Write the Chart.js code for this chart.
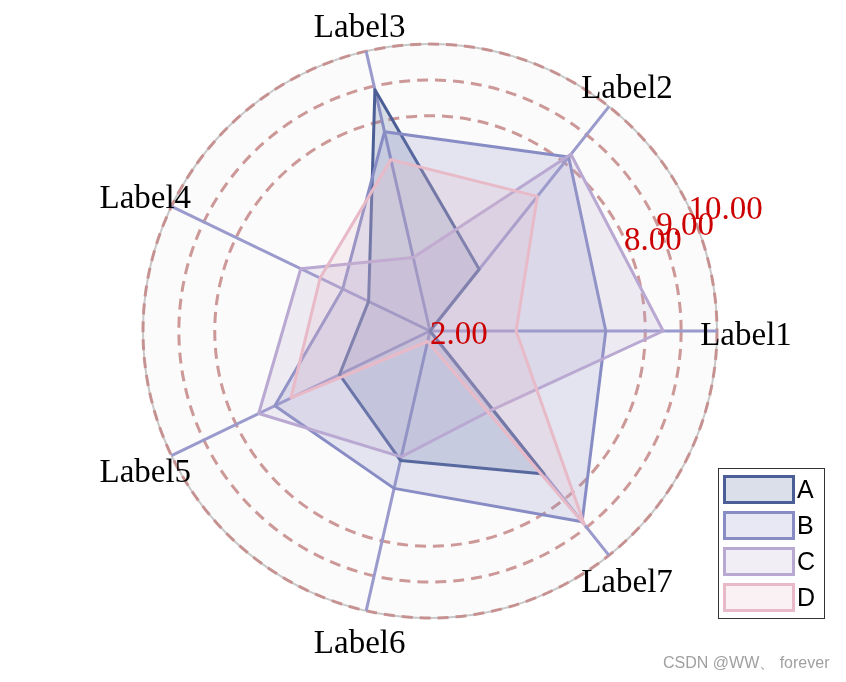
<!DOCTYPE html>
<html>
<head>
<meta charset="utf-8">
<script src="https://cdn.jsdelivr.net/npm/chart.js@4.4.1/dist/chart.umd.min.js"></script>
<style>
  html, body { margin: 0; padding: 0; background: #ffffff; }
  #wrap { width: 846px; height: 682px; position: relative; }
  canvas { display: block; }
</style>
</head>
<body>
<div id="wrap"><canvas id="c" width="846" height="682"></canvas></div>
<script>
// ---------------- data ----------------
const categories = ['Label1', 'Label2', 'Label3', 'Label4', 'Label5', 'Label6', 'Label7'];
const seriesNames = ['A', 'B', 'C', 'D'];
const seriesA = [2.0, 4.2, 8.9, 3.9, 4.8, 5.7, 7.1];
const seriesB = [6.9, 8.2, 7.7, 4.7, 6.8, 6.5, 8.8];
const seriesC = [8.5, 8.3, 4.1, 6.0, 7.3, 5.6, 4.8];
const seriesD = [4.4, 6.8, 6.9, 5.4, 6.3, 2.3, 8.9];
const tickValues = [2, 8, 9, 10];
const tickLabels = ['2.00', '8.00', '9.00', '10.00'];
const watermarkText = 'CSDN @WW、 forever';

// ---------------- styles ----------------
const seriesRGB = ['75,95,150', '136,140,196', '185,168,210', '232,186,200'];
const serifFont = '"Liberation Serif", "Times New Roman", serif';
const sansFont = '"Liberation Sans", Arial, sans-serif';

// Reference goes counter-clockwise from east; Chart.js goes clockwise,
// so feed the categories in reversed angular order.
const drawOrder = [0, 6, 5, 4, 3, 2, 1];
const reorder = arr => drawOrder.map(i => arr[i]);

const allSeries = [seriesA, seriesB, seriesC, seriesD];
const datasets = allSeries.map((s, k) => ({
  label: seriesNames[k],
  data: reorder(s),
  borderColor: 'rgb(' + seriesRGB[k] + ')',
  backgroundColor: 'rgba(' + seriesRGB[k] + ',0.2)',
  borderWidth: 3,
  borderJoinStyle: 'round',
  pointRadius: 0,
  pointHoverRadius: 0,
  fill: true,
  tension: 0,
  order: allSeries.length - 1 - k
}));

const polarBg = {
  id: 'polarBg',
  beforeDraw(chart) {
    const s = chart.scales.r;
    const ctx = chart.ctx;
    ctx.save();
    ctx.fillStyle = '#ffffff';
    ctx.fillRect(0, 0, chart.width, chart.height);
    ctx.beginPath();
    ctx.arc(s.xCenter, s.yCenter, s.drawingArea, 0, Math.PI * 2);
    ctx.fillStyle = '#fbfbfb';
    ctx.fill();
    ctx.lineWidth = 2;
    ctx.strokeStyle = '#c8c8c8';
    ctx.stroke();
    ctx.restore();
  }
};

const overlay = {
  id: 'overlay',
  afterDatasetsDraw(chart) {
    const s = chart.scales.r;
    const ctx = chart.ctx;
    ctx.save();
    // category labels
    ctx.font = '33px ' + serifFont;
    ctx.fillStyle = '#000000';
    ctx.textAlign = 'center';
    ctx.textBaseline = 'middle';
    chart.data.labels.forEach((lab, i) => {
      const p = s.getPointPosition(i, s.drawingArea + 29);
      ctx.fillText(lab, p.x, p.y + 5);
    });
    // radial tick labels, placed halfway between first two spokes
    const a = s.getIndexAngle(0) - Math.PI / chart.data.labels.length - Math.PI / 2;
    ctx.fillStyle = '#cc0000';
    ctx.textAlign = 'left';
    tickValues.forEach((v, i) => {
      const d = s.getDistanceFromCenterForValue(v);
      ctx.fillText(tickLabels[i], s.xCenter + Math.cos(a) * d, s.yCenter + Math.sin(a) * d + 4);
    });
    // legend
    const lx = 718.5, ly = 468.5, lw = 106, lh = 150;
    ctx.fillStyle = '#ffffff';
    ctx.fillRect(lx, ly, lw, lh);
    ctx.lineWidth = 1;
    ctx.strokeStyle = '#333333';
    ctx.strokeRect(lx, ly, lw, lh);
    ctx.font = '25px ' + sansFont;
    chart.data.datasets.forEach((ds, i) => {
      const cy = 489.5 + i * 36;
      ctx.fillStyle = ds.backgroundColor;
      ctx.fillRect(724.5, cy - 13, 69, 26);
      ctx.lineWidth = 3;
      ctx.strokeStyle = ds.borderColor;
      ctx.strokeRect(724.5, cy - 13, 69, 26);
      ctx.fillStyle = '#000000';
      ctx.textAlign = 'left';
      ctx.fillText(ds.label, 797, cy + 2);
    });
    // watermark
    ctx.font = '16px ' + sansFont;
    ctx.fillStyle = '#a0a0a0';
    ctx.fillText(watermarkText, 663, 664);
    ctx.restore();
  }
};

new Chart(document.getElementById('c'), {
  type: 'radar',
  data: { labels: reorder(categories), datasets },
  options: {
    responsive: false,
    devicePixelRatio: 1,
    animation: false,
    layout: { padding: { left: 143, top: 44, right: 129, bottom: 64 } },
    plugins: { legend: { display: false }, tooltip: { enabled: false } },
    elements: { line: { borderJoinStyle: 'round' } },
    scales: {
      r: {
        min: 2,
        max: 10,
        startAngle: 90,
        afterBuildTicks: (scale) => { scale.ticks = tickValues.map(v => ({ value: v })); },
        ticks: { display: false },
        pointLabels: { display: false },
        grid: { circular: true, color: 'rgba(196,134,134,0.85)', lineWidth: 3 },
        border: { dash: [11, 7] },
        angleLines: { color: '#9a9acd', lineWidth: 3 }
      }
    }
  },
  plugins: [polarBg, overlay]
});
</script>
</body>
</html>
